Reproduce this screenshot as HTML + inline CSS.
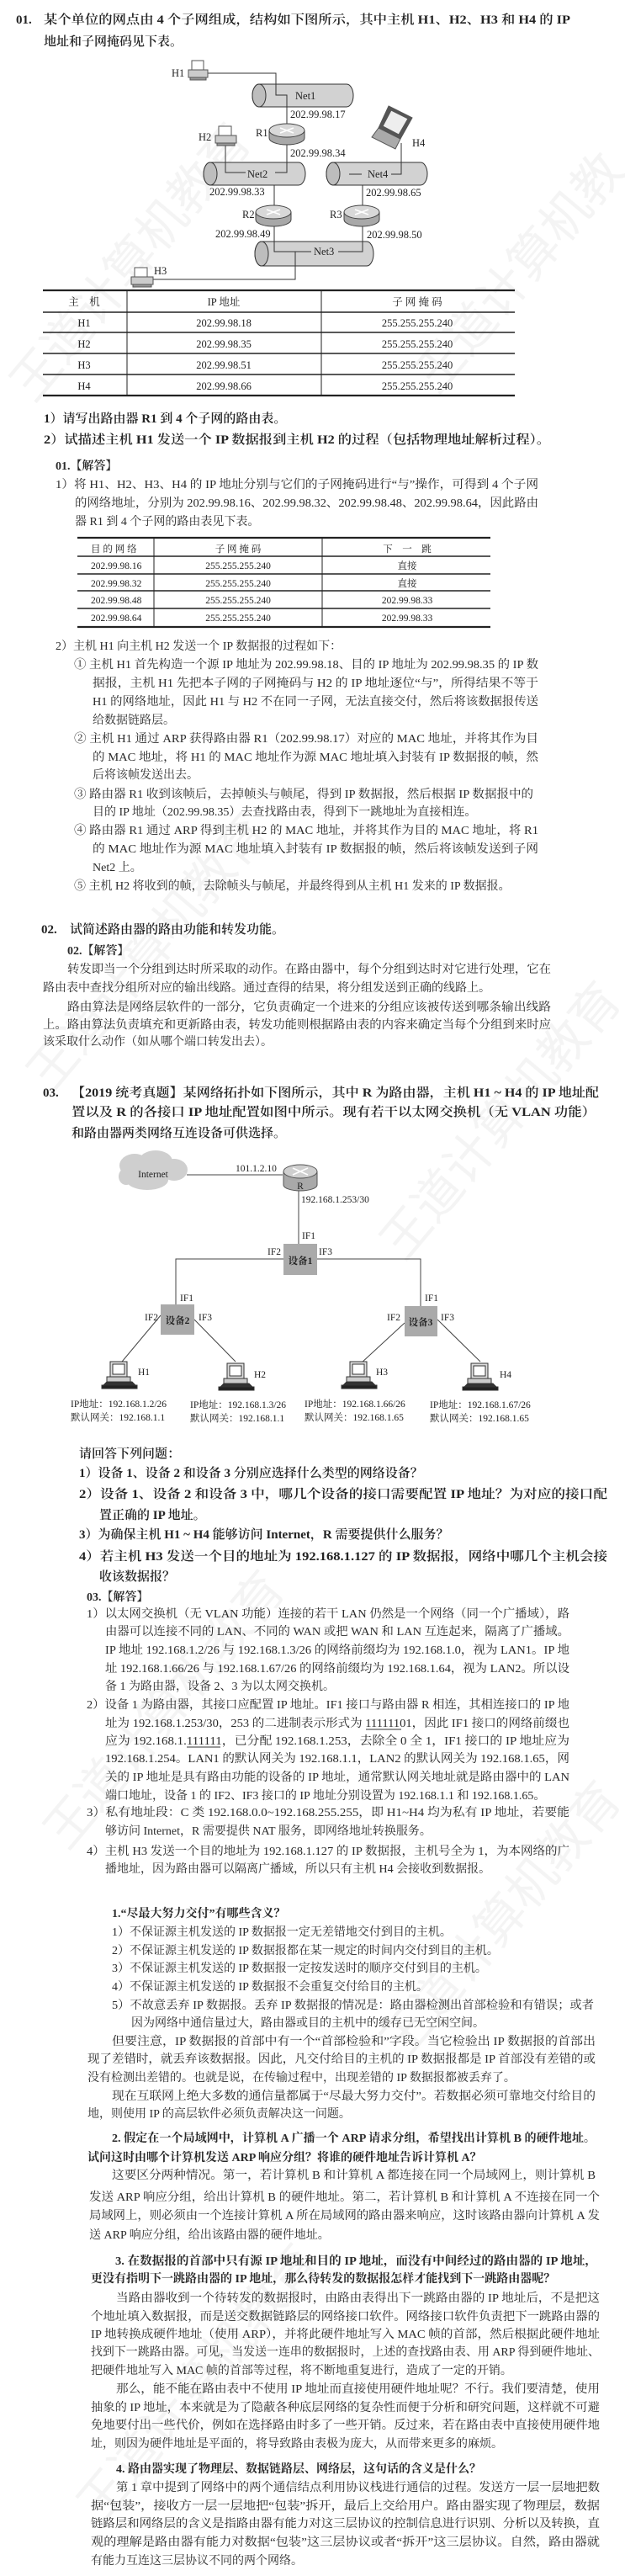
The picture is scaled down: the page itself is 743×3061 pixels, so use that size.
<!DOCTYPE html>
<html><head><meta charset="utf-8">
<style>
html,body{margin:0;padding:0;background:#fff;}
svg{display:block;}
.a{font-family:"Liberation Serif","Noto Serif CJK SC",serif;font-size:14px;fill:#2a2a2a;}
.q{font-family:"Liberation Serif","Noto Serif CJK SC",serif;font-size:15px;font-weight:600;fill:#222;}
.s{font-family:"Liberation Serif","Noto Serif CJK SC",serif;font-size:11.5px;fill:#222;}
.t{font-family:"Liberation Serif","Noto Serif CJK SC",serif;font-size:12.5px;fill:#222;}
.wm{font-family:"Noto Sans CJK SC",sans-serif;font-size:58px;fill:#000;opacity:0.045;}
</style></head><body>
<svg width="743" height="3061" viewBox="0 0 743 3061" xmlns="http://www.w3.org/2000/svg">
<rect width="743" height="3061" fill="#fff"/>
<g class="wm">
<text transform="translate(40,480) rotate(-50)">王道计算机教育</text>
<text transform="translate(520,470) rotate(-50)">王道计算机教</text>
<text transform="translate(60,1300) rotate(-50)">王道计算机教育</text>
<text transform="translate(480,1500) rotate(-50)">王道计算机教育</text>
<text transform="translate(80,2200) rotate(-50)">王道计算机教育</text>
<text transform="translate(480,2450) rotate(-50)">王道计算机教育</text>
<text transform="translate(120,3000) rotate(-50)">王道计算机教育</text>
</g>

<text class="q" x="19" y="28">01.</text>
<text class="q" x="52" y="28" textLength="626" lengthAdjust="spacingAndGlyphs">某个单位的网点由 4 个子网组成，结构如下图所示，其中主机 H1、H2、H3 和 H4 的 IP</text>
<text class="q" x="52" y="54">地址和子网掩码见下表。</text>

<g stroke="#333" stroke-width="1" fill="none">
<polyline points="247,87 328,87 328,113 341,113 341,147"/>
<polyline points="341,170 341,205 327,205"/>
<polyline points="268,172 268,205 292,205"/>
<polyline points="477,170 477,207 465,207"/>
<line x1="415" y1="207" x2="430" y2="207"/>
<line x1="379" y1="114" x2="401" y2="114"/>
<line x1="326" y1="220" x2="326" y2="245"/>
<line x1="431" y1="220" x2="431" y2="245"/>
<polyline points="326,266 326,299 370,299"/>
<polyline points="431,266 431,299 402,299"/>
<polyline points="351,299 351,332 182,332"/>
</g>
<g stroke="#333" stroke-width="1" fill="#d2d2d2">
<path d="M308,100 L412,100 A8,13.5 0 0 1 412,127 L308,127 A8,13.5 0 0 1 308,100 Z"/>
<ellipse cx="308" cy="113.5" rx="8" ry="13.5" fill="#bdbdbd"/>
<path d="M250,193 L355,193 A8,13.5 0 0 1 355,220 L250,220 A8,13.5 0 0 1 250,193 Z"/>
<ellipse cx="250" cy="206.5" rx="8" ry="13.5" fill="#bdbdbd"/>
<path d="M396,193 L500,193 A8,13.5 0 0 1 500,220 L396,220 A8,13.5 0 0 1 396,193 Z"/>
<ellipse cx="396" cy="206.5" rx="8" ry="13.5" fill="#bdbdbd"/>
<path d="M311,287 L436,287 A8,14.5 0 0 1 436,316 L311,316 A8,14.5 0 0 1 311,287 Z"/>
<ellipse cx="311" cy="301.5" rx="8" ry="14.5" fill="#bdbdbd"/>
</g>
<g stroke="#333" stroke-width="1" fill="none">
<polyline points="328,100 328,113 341,113 341,127"/>
<polyline points="268,193 268,205 292,205"/>
<polyline points="341,193 341,205 327,205"/>
<polyline points="477,193 477,207 465,207"/>
<line x1="415" y1="207" x2="430" y2="207"/>
<polyline points="326,287 326,299 370,299"/>
<polyline points="431,287 431,299 402,299"/>
<line x1="351" y1="299" x2="351" y2="316"/>
</g>
<text class="t" x="351" y="118">Net1</text>
<text class="t" x="294" y="211">Net2</text>
<text class="t" x="437" y="211">Net4</text>
<text class="t" x="373" y="303">Net3</text>
<text class="t" x="345" y="140">202.99.98.17</text>
<text class="t" x="345" y="186">202.99.98.34</text>
<text class="t" x="249" y="232">202.99.98.33</text>
<text class="t" x="435" y="233">202.99.98.65</text>
<text class="t" x="256" y="282">202.99.98.49</text>
<text class="t" x="436" y="283">202.99.98.50</text>
<g stroke="#444" stroke-width="1">
<g transform="translate(341,158)"><path d="M-21,-3 L-21,6 A21,8 0 0 0 21,6 L21,-3 Z" fill="#a8a8a8"/><ellipse cx="0" cy="-3" rx="21" ry="8" fill="#d8d8d8"/><path d="M-8,-6 L8,0 M-8,0 L8,-6" stroke="#fff" stroke-width="1.5"/></g>
<g transform="translate(325,255)"><path d="M-21,-3 L-21,6 A21,8 0 0 0 21,6 L21,-3 Z" fill="#a8a8a8"/><ellipse cx="0" cy="-3" rx="21" ry="8" fill="#d8d8d8"/><path d="M-8,-6 L8,0 M-8,0 L8,-6" stroke="#fff" stroke-width="1.5"/></g>
<g transform="translate(430,255)"><path d="M-21,-3 L-21,6 A21,8 0 0 0 21,6 L21,-3 Z" fill="#a8a8a8"/><ellipse cx="0" cy="-3" rx="21" ry="8" fill="#d8d8d8"/><path d="M-8,-6 L8,0 M-8,0 L8,-6" stroke="#fff" stroke-width="1.5"/></g>
</g>
<text class="t" x="304" y="162">R1</text>
<text class="t" x="288" y="259">R2</text>
<text class="t" x="392" y="259">R3</text>
<g stroke="#555" stroke-width="1" fill="#ccc">
<rect x="228" y="72" width="14" height="12" fill="#fff"/><rect x="224" y="83" width="23" height="9"/><rect x="226" y="92" width="19" height="3" fill="#999"/>
<rect x="260" y="150" width="15" height="12" fill="#fff"/><rect x="256" y="161" width="25" height="9"/><rect x="258" y="170" width="21" height="3" fill="#999"/>
<rect x="160" y="318" width="15" height="12" fill="#fff"/><rect x="156" y="329" width="26" height="9"/><rect x="158" y="338" width="22" height="3" fill="#999"/>
<path d="M462,126 L490,140 L476,165 L450,152 Z" fill="#555"/><path d="M465,131 L485,141 L474,160 L455,150 Z" fill="#eee"/><path d="M450,152 L476,165 L470,177 L442,163 Z" fill="#aaa"/>
</g>
<text class="t" x="204" y="91">H1</text>
<text class="t" x="236" y="167">H2</text>
<text class="t" x="183" y="326">H3</text>
<text class="t" x="490" y="174">H4</text>

<g stroke="#222">
<line x1="51" y1="345" x2="612" y2="345" stroke-width="2.2"/>
<line x1="51" y1="371" x2="612" y2="371" stroke-width="1.6"/>
<line x1="51" y1="395" x2="612" y2="395" stroke-width="1.4"/>
<line x1="51" y1="420" x2="612" y2="420" stroke-width="1.4"/>
<line x1="51" y1="445" x2="612" y2="445" stroke-width="1.4"/>
<line x1="51" y1="470" x2="612" y2="470" stroke-width="2.2"/>
<line x1="151" y1="345" x2="151" y2="470" stroke-width="1"/>
<line x1="382" y1="345" x2="382" y2="470" stroke-width="1"/>
</g>
<g class="t" text-anchor="middle">
<text x="100" y="363">主　机</text><text x="266" y="363">IP 地址</text><text x="496" y="363">子 网 掩 码</text>
<text x="100" y="388">H1</text><text x="266" y="388">202.99.98.18</text><text x="496" y="388">255.255.255.240</text>
<text x="100" y="413">H2</text><text x="266" y="413">202.99.98.35</text><text x="496" y="413">255.255.255.240</text>
<text x="100" y="438">H3</text><text x="266" y="438">202.99.98.51</text><text x="496" y="438">255.255.255.240</text>
<text x="100" y="463">H4</text><text x="266" y="463">202.99.98.66</text><text x="496" y="463">255.255.255.240</text>
</g>
<text class="q" x="52" y="502">1）请写出路由器 R1 到 4 个子网的路由表。</text>
<text class="q" x="52" y="527" textLength="602" lengthAdjust="spacingAndGlyphs">2）试描述主机 H1 发送一个 IP 数据报到主机 H2 的过程（包括物理地址解析过程）。</text>

<text class="a" x="66" y="558" font-weight="700">01.【解答】</text>
<text class="a" x="66" y="580" textLength="574" lengthAdjust="spacingAndGlyphs">1）将 H1、H2、H3、H4 的 IP 地址分别与它们的子网掩码进行“与”操作，可得到 4 个子网</text>
<text class="a" x="89" y="602" textLength="551" lengthAdjust="spacingAndGlyphs">的网络地址，分别为 202.99.98.16、202.99.98.32、202.99.98.48、202.99.98.64，因此路由</text>
<text class="a" x="89" y="624">器 R1 到 4 个子网的路由表见下表。</text>

<g stroke="#222">
<line x1="92" y1="639" x2="583" y2="639" stroke-width="2.2"/>
<line x1="92" y1="661" x2="583" y2="661" stroke-width="1.6"/>
<line x1="92" y1="682" x2="583" y2="682" stroke-width="1.4"/>
<line x1="92" y1="702" x2="583" y2="702" stroke-width="1.4"/>
<line x1="92" y1="723" x2="583" y2="723" stroke-width="1.4"/>
<line x1="92" y1="745" x2="583" y2="745" stroke-width="2.2"/>
<line x1="183" y1="639" x2="183" y2="745" stroke-width="1"/>
<line x1="383" y1="639" x2="383" y2="745" stroke-width="1"/>
</g>
<g class="s">
<text x="108" y="656">目 的 网 络</text>
<text x="108" y="676">202.99.98.16</text><text x="108" y="697">202.99.98.32</text><text x="108" y="717">202.99.98.48</text><text x="108" y="738">202.99.98.64</text>
</g>
<g class="s" text-anchor="middle">
<text x="283" y="656">子 网 掩 码</text><text x="484" y="656">下　一　跳</text>
<text x="283" y="676">255.255.255.240</text><text x="484" y="676">直接</text>
<text x="283" y="697">255.255.255.240</text><text x="484" y="697">直接</text>
<text x="283" y="717">255.255.255.240</text><text x="484" y="717">202.99.98.33</text>
<text x="283" y="738">255.255.255.240</text><text x="484" y="738">202.99.98.33</text>
</g>

<text class="a" x="66" y="772">2）主机 H1 向主机 H2 发送一个 IP 数据报的过程如下：</text>
<text class="a" x="88" y="794" textLength="552" lengthAdjust="spacingAndGlyphs">① 主机 H1 首先构造一个源 IP 地址为 202.99.98.18、目的 IP 地址为 202.99.98.35 的 IP 数</text>
<text class="a" x="110" y="816" textLength="530" lengthAdjust="spacingAndGlyphs">据报，主机 H1 先把本子网的子网掩码与 H2 的 IP 地址逐位“与”，所得结果不等于</text>
<text class="a" x="110" y="838" textLength="530" lengthAdjust="spacingAndGlyphs">H1 的网络地址，因此 H1 与 H2 不在同一子网，无法直接交付，然后将该数据报传送</text>
<text class="a" x="110" y="860">给数据链路层。</text>
<text class="a" x="88" y="882" textLength="552" lengthAdjust="spacingAndGlyphs">② 主机 H1 通过 ARP 获得路由器 R1（202.99.98.17）对应的 MAC 地址，并将其作为目</text>
<text class="a" x="110" y="904" textLength="530" lengthAdjust="spacingAndGlyphs">的 MAC 地址，将 H1 的 MAC 地址作为源 MAC 地址填入封装有 IP 数据报的帧，然</text>
<text class="a" x="110" y="925">后将该帧发送出去。</text>
<text class="a" x="88" y="948" textLength="546" lengthAdjust="spacingAndGlyphs">③ 路由器 R1 收到该帧后，去掉帧头与帧尾，得到 IP 数据报，然后根据 IP 数据报中的</text>
<text class="a" x="110" y="969">目的 IP 地址（202.99.98.35）去查找路由表，得到下一跳地址为直接相连。</text>
<text class="a" x="88" y="991" textLength="552" lengthAdjust="spacingAndGlyphs">④ 路由器 R1 通过 ARP 得到主机 H2 的 MAC 地址，并将其作为目的 MAC 地址，将 R1</text>
<text class="a" x="110" y="1013" textLength="530" lengthAdjust="spacingAndGlyphs">的 MAC 地址作为源 MAC 地址填入封装有 IP 数据报的帧，然后将该帧发送到子网</text>
<text class="a" x="110" y="1035">Net2 上。</text>
<text class="a" x="88" y="1057">⑤ 主机 H2 将收到的帧，去除帧头与帧尾，并最终得到从主机 H1 发来的 IP 数据报。</text>

<text class="q" x="49" y="1109">02.</text>
<text class="q" x="83" y="1109">试简述路由器的路由功能和转发功能。</text>
<text class="a" x="80" y="1134" font-weight="700">02.【解答】</text>
<text class="a" x="80" y="1156" textLength="575" lengthAdjust="spacingAndGlyphs">转发即当一个分组到达时所采取的动作。在路由器中，每个分组到达时对它进行处理，它在</text>
<text class="a" x="51" y="1178">路由表中查找分组所对应的输出线路。通过查得的结果，将分组发送到正确的线路上。</text>
<text class="a" x="80" y="1201" textLength="575" lengthAdjust="spacingAndGlyphs">路由算法是网络层软件的一部分，它负责确定一个进来的分组应该被传送到哪条输出线路</text>
<text class="a" x="51" y="1222" textLength="604" lengthAdjust="spacingAndGlyphs">上。路由算法负责填充和更新路由表，转发功能则根据路由表的内容来确定当每个分组到来时应</text>
<text class="a" x="51" y="1242">该采取什么动作（如从哪个端口转发出去）。</text>

<text class="q" x="51" y="1303">03.</text>
<text class="q" x="85" y="1303" textLength="627" lengthAdjust="spacingAndGlyphs">【2019 统考真题】某网络拓扑如下图所示，其中 R 为路由器，主机 H1 ~ H4 的 IP 地址配</text>
<text class="q" x="85" y="1326" textLength="623" lengthAdjust="spacingAndGlyphs">置以及 R 的各接口 IP 地址配置如图中所示。现有若干以太网交换机（无 VLAN 功能）</text>
<text class="q" x="85" y="1351">和路由器两类网络互连设备可供选择。</text>

<g fill="#cfcfcf">
<ellipse cx="160" cy="1385" rx="18" ry="14"/><ellipse cx="185" cy="1380" rx="20" ry="13"/><ellipse cx="207" cy="1390" rx="16" ry="13"/><ellipse cx="175" cy="1402" rx="25" ry="12"/><ellipse cx="150" cy="1398" rx="9" ry="10"/>
</g>
<text class="s" x="182" y="1399" text-anchor="middle">Internet</text>
<g stroke="#444" stroke-width="1" fill="none">
<line x1="222" y1="1396" x2="336" y2="1396"/>
<line x1="355" y1="1412" x2="355" y2="1478"/>
<polyline points="209,1550 209,1496 500,1496 500,1552"/>
<line x1="191" y1="1563" x2="145" y2="1618"/>
<line x1="231" y1="1568" x2="280" y2="1618"/>
<line x1="481" y1="1572" x2="429" y2="1620"/>
<line x1="520" y1="1568" x2="571" y2="1618"/>
</g>
<g transform="translate(357,1398)" stroke="#555" stroke-width="1">
<path d="M-20,-6 L-20,10 A20,7 0 0 0 20,10 L20,-6 Z" fill="#a9a9a9"/>
<ellipse cx="0" cy="-6" rx="20" ry="8" fill="#cfcfcf"/>
<path d="M-9,-10 L9,-2 M-9,-2 L9,-10" stroke="#fff" stroke-width="1.6"/>
</g>
<text class="s" x="357" y="1413" text-anchor="middle">R</text>
<text class="s" x="280" y="1392">101.1.2.10</text>
<text class="s" x="358" y="1429">192.168.1.253/30</text>
<rect x="337" y="1478" width="40" height="37" fill="#aaa"/>
<rect x="191" y="1550" width="40" height="36" fill="#aaa"/>
<rect x="481" y="1552" width="39" height="36" fill="#aaa"/>
<g class="s" font-weight="700" text-anchor="middle">
<text x="357" y="1502">设备1</text><text x="211" y="1573">设备2</text><text x="500" y="1575">设备3</text>
</g>
<g class="s">
<text x="359" y="1472">IF1</text><text x="318" y="1491">IF2</text><text x="379" y="1491">IF3</text>
<text x="214" y="1546">IF1</text><text x="172" y="1569">IF2</text><text x="236" y="1569">IF3</text>
<text x="505" y="1546">IF1</text><text x="460" y="1569">IF2</text><text x="524" y="1569">IF3</text>
</g>
<g stroke="#333" stroke-width="1">
<g transform="translate(121,1618)"><rect x="10" y="0" width="20" height="18" fill="#ddd"/><rect x="13" y="3" width="14" height="12" fill="#fff"/><rect x="6" y="18" width="28" height="6" fill="#ccc"/><path d="M2,28 L40,28 L36,24 L6,24 Z" fill="#333"/><rect x="0" y="28" width="42" height="4" fill="#222"/></g>
<g transform="translate(260,1620)"><rect x="10" y="0" width="20" height="18" fill="#ddd"/><rect x="13" y="3" width="14" height="12" fill="#fff"/><rect x="6" y="18" width="28" height="6" fill="#ccc"/><path d="M2,28 L40,28 L36,24 L6,24 Z" fill="#333"/><rect x="0" y="28" width="42" height="4" fill="#222"/></g>
<g transform="translate(406,1618)"><rect x="10" y="0" width="20" height="18" fill="#ddd"/><rect x="13" y="3" width="14" height="12" fill="#fff"/><rect x="6" y="18" width="28" height="6" fill="#ccc"/><path d="M2,28 L40,28 L36,24 L6,24 Z" fill="#333"/><rect x="0" y="28" width="42" height="4" fill="#222"/></g>
<g transform="translate(550,1620)"><rect x="10" y="0" width="20" height="18" fill="#ddd"/><rect x="13" y="3" width="14" height="12" fill="#fff"/><rect x="6" y="18" width="28" height="6" fill="#ccc"/><path d="M2,28 L40,28 L36,24 L6,24 Z" fill="#333"/><rect x="0" y="28" width="42" height="4" fill="#222"/></g>
</g>
<g class="s">
<text x="164" y="1634">H1</text><text x="302" y="1637">H2</text><text x="447" y="1634">H3</text><text x="594" y="1637">H4</text>
<text x="84" y="1672">IP地址：192.168.1.2/26</text><text x="84" y="1688">默认网关：192.168.1.1</text>
<text x="226" y="1673">IP地址：192.168.1.3/26</text><text x="226" y="1689">默认网关：192.168.1.1</text>
<text x="362" y="1672">IP地址：192.168.1.66/26</text><text x="362" y="1688">默认网关：192.168.1.65</text>
<text x="511" y="1673">IP地址：192.168.1.67/26</text><text x="511" y="1689">默认网关：192.168.1.65</text>
</g>

<text class="q" x="94" y="1732" font-weight="400">请回答下列问题：</text>
<text class="q" x="94" y="1755">1）设备 1、设备 2 和设备 3 分别应选择什么类型的网络设备？</text>
<text class="q" x="94" y="1780" textLength="628" lengthAdjust="spacingAndGlyphs">2）设备 1、设备 2 和设备 3 中，哪几个设备的接口需要配置 IP 地址？为对应的接口配</text>
<text class="q" x="118" y="1805">置正确的 IP 地址。</text>
<text class="q" x="94" y="1828">3）为确保主机 H1 ~ H4 能够访问 Internet，R 需要提供什么服务？</text>
<text class="q" x="94" y="1854" textLength="628" lengthAdjust="spacingAndGlyphs">4）若主机 H3 发送一个目的地址为 192.168.1.127 的 IP 数据报，网络中哪几个主机会接</text>
<text class="q" x="118" y="1878">收该数据报？</text>

<text class="a" x="103" y="1902" font-weight="700">03.【解答】</text>
<text class="a" x="103" y="1922" textLength="574" lengthAdjust="spacingAndGlyphs">1）以太网交换机（无 VLAN 功能）连接的若干 LAN 仍然是一个网络（同一个广播域），路</text>
<text class="a" x="125" y="1943" textLength="552" lengthAdjust="spacingAndGlyphs">由器可以连接不同的 LAN、不同的 WAN 或把 WAN 和 LAN 互连起来，隔离了广播域。</text>
<text class="a" x="125" y="1965" textLength="552" lengthAdjust="spacingAndGlyphs">IP 地址 192.168.1.2/26 与 192.168.1.3/26 的网络前缀均为 192.168.1.0，视为 LAN1。IP 地</text>
<text class="a" x="125" y="1987" textLength="552" lengthAdjust="spacingAndGlyphs">址 192.168.1.66/26 与 192.168.1.67/26 的网络前缀均为 192.168.1.64，视为 LAN2。所以设</text>
<text class="a" x="125" y="2008">备 1 为路由器，设备 2、3 为以太网交换机。</text>
<text class="a" x="103" y="2030" textLength="574" lengthAdjust="spacingAndGlyphs">2）设备 1 为路由器，其接口应配置 IP 地址。IF1 接口与路由器 R 相连，其相连接口的 IP 地</text>
<text class="a" x="125" y="2052" textLength="552" lengthAdjust="spacingAndGlyphs">址为 192.168.1.253/30，253 的二进制表示形式为 11111101，因此 IF1 接口的网络前缀也</text>
<line x1="435" y1="2055" x2="477" y2="2055" stroke="#333" stroke-width="1"/>
<text class="a" x="125" y="2073" textLength="552" lengthAdjust="spacingAndGlyphs">应为 192.168.1.111111，已分配 192.168.1.253，去除全 0 全 1，IF1 接口的 IP 地址应为</text>
<line x1="222" y1="2076" x2="262" y2="2076" stroke="#333" stroke-width="1"/>
<text class="a" x="125" y="2094" textLength="552" lengthAdjust="spacingAndGlyphs">192.168.1.254。LAN1 的默认网关为 192.168.1.1，LAN2 的默认网关为 192.168.1.65，网</text>
<text class="a" x="125" y="2116" textLength="552" lengthAdjust="spacingAndGlyphs">关的 IP 地址是具有路由功能的设备的 IP 地址，通常默认网关地址就是路由器中的 LAN</text>
<text class="a" x="125" y="2138">端口地址，设备 1 的 IF2、IF3 接口的 IP 地址分别设置为 192.168.1.1 和 192.168.1.65。</text>
<text class="a" x="103" y="2158" textLength="574" lengthAdjust="spacingAndGlyphs">3）私有地址段：C 类 192.168.0.0~192.168.255.255，即 H1~H4 均为私有 IP 地址，若要能</text>
<text class="a" x="125" y="2180">够访问 Internet，R 需要提供 NAT 服务，即网络地址转换服务。</text>
<text class="a" x="103" y="2204" textLength="574" lengthAdjust="spacingAndGlyphs">4）主机 H3 发送一个目的地址为 192.168.1.127 的 IP 数据报，主机号全为 1，为本网络的广</text>
<text class="a" x="125" y="2225">播地址，因为路由器可以隔离广播域，所以只有主机 H4 会接收到数据报。</text>

<text class="a" x="133" y="2278" font-weight="700">1.“尽最大努力交付”有哪些含义？</text>
<text class="a" x="133" y="2300">1）不保证源主机发送的 IP 数据报一定无差错地交付到目的主机。</text>
<text class="a" x="133" y="2322">2）不保证源主机发送的 IP 数据报都在某一规定的时间内交付到目的主机。</text>
<text class="a" x="133" y="2343">3）不保证源主机发送的 IP 数据报一定按发送时的顺序交付到目的主机。</text>
<text class="a" x="133" y="2365">4）不保证源主机发送的 IP 数据报不会重复交付给目的主机。</text>
<text class="a" x="133" y="2387" textLength="573" lengthAdjust="spacingAndGlyphs">5）不故意丢弃 IP 数据报。丢弃 IP 数据报的情况是：路由器检测出首部检验和有错误；或者</text>
<text class="a" x="156" y="2408">因为网络中通信量过大，路由器或目的主机中的缓存已无空闲空间。</text>
<text class="a" x="133" y="2430" textLength="575" lengthAdjust="spacingAndGlyphs">但要注意，IP 数据报的首部中有一个“首部检验和”字段。当它检验出 IP 数据报的首部出</text>
<text class="a" x="104" y="2451" textLength="604" lengthAdjust="spacingAndGlyphs">现了差错时，就丢弃该数据报。因此，凡交付给目的主机的 IP 数据报都是 IP 首部没有差错的或</text>
<text class="a" x="104" y="2473">没有检测出差错的。也就是说，在传输过程中，出现差错的 IP 数据报都被丢弃了。</text>
<text class="a" x="133" y="2495" textLength="575" lengthAdjust="spacingAndGlyphs">现在互联网上绝大多数的通信量都属于“尽最大努力交付”。若数据必须可靠地交付给目的</text>
<text class="a" x="104" y="2516">地，则使用 IP 的高层软件必须负责解决这一问题。</text>

<text class="a" x="133" y="2545" font-weight="700" textLength="575" lengthAdjust="spacingAndGlyphs">2. 假定在一个局域网中，计算机 A 广播一个 ARP 请求分组，希望找出计算机 B 的硬件地址。</text>
<text class="a" x="104" y="2568" font-weight="700">试问这时由哪个计算机发送 ARP 响应分组？将谁的硬件地址告诉计算机 A？</text>
<text class="a" x="133" y="2589" textLength="575" lengthAdjust="spacingAndGlyphs">这要区分两种情况。第一，若计算机 B 和计算机 A 都连接在同一个局域网上，则计算机 B</text>
<text class="a" x="106" y="2615" textLength="607" lengthAdjust="spacingAndGlyphs">发送 ARP 响应分组，给出计算机 B 的硬件地址。第二，若计算机 B 和计算机 A 不连接在同一个</text>
<text class="a" x="106" y="2637" textLength="607" lengthAdjust="spacingAndGlyphs">局域网上，则必须由一个连接计算机 A 所在局域网的路由器来响应，这时该路由器向计算机 A 发</text>
<text class="a" x="106" y="2660">送 ARP 响应分组，给出该路由器的硬件地址。</text>

<text class="a" x="137" y="2691" font-weight="700" textLength="573" lengthAdjust="spacingAndGlyphs">3. 在数据报的首部中只有源 IP 地址和目的 IP 地址，而没有中间经过的路由器的 IP 地址，</text>
<text class="a" x="108" y="2712" font-weight="700">更没有指明下一跳路由器的 IP 地址，那么待转发的数据报怎样才能找到下一跳路由器呢？</text>
<text class="a" x="138" y="2735" textLength="575" lengthAdjust="spacingAndGlyphs">当路由器收到一个待转发的数据报时，由路由表得出下一跳路由器的 IP 地址后，不是把这</text>
<text class="a" x="108" y="2757" textLength="605" lengthAdjust="spacingAndGlyphs">个地址填入数据报，而是送交数据链路层的网络接口软件。网络接口软件负责把下一跳路由器的</text>
<text class="a" x="108" y="2778" textLength="605" lengthAdjust="spacingAndGlyphs">IP 地转换成硬件地址（使用 ARP），并将此硬件地址写入 MAC 帧的首部，然后根据此硬件地址</text>
<text class="a" x="108" y="2799" textLength="605" lengthAdjust="spacingAndGlyphs">找到下一跳路由器。可见，当发送一连串的数据报时，上述的查找路由表、用 ARP 得到硬件地址、</text>
<text class="a" x="108" y="2821">把硬件地址写入 MAC 帧的首部等过程，将不断地重复进行，造成了一定的开销。</text>
<text class="a" x="138" y="2843" textLength="575" lengthAdjust="spacingAndGlyphs">那么，能不能在路由表中不使用 IP 地址而直接使用硬件地址呢？不行。我们要清楚，使用</text>
<text class="a" x="108" y="2865" textLength="605" lengthAdjust="spacingAndGlyphs">抽象的 IP 地址，本来就是为了隐蔽各种底层网络的复杂性而便于分析和研究问题，这样就不可避</text>
<text class="a" x="108" y="2886" textLength="605" lengthAdjust="spacingAndGlyphs">免地要付出一些代价，例如在选择路由时多了一些开销。反过来，若在路由表中直接使用硬件地</text>
<text class="a" x="108" y="2908">址，则因为硬件地址是平面的，将导致路由表极为庞大，从而带来更多的麻烦。</text>

<text class="a" x="138" y="2938" font-weight="700">4. 路由器实现了物理层、数据链路层、网络层，这句话的含义是什么？</text>
<text class="a" x="138" y="2960" textLength="575" lengthAdjust="spacingAndGlyphs">第 1 章中提到了网络中的两个通信结点利用协议栈进行通信的过程。发送方一层一层地把数</text>
<text class="a" x="108" y="2982" textLength="605" lengthAdjust="spacingAndGlyphs">据“包装”，接收方一层一层地把“包装”拆开，最后上交给用户。路由器实现了物理层，数据</text>
<text class="a" x="108" y="3003" textLength="605" lengthAdjust="spacingAndGlyphs">链路层和网络层的含义是指路由器有能力对这三层协议的控制信息进行识别、分析以及转换，直</text>
<text class="a" x="108" y="3025" textLength="605" lengthAdjust="spacingAndGlyphs">观的理解是路由器有能力对数据“包装”这三层协议或者“拆开”这三层协议。自然，路由器就</text>
<text class="a" x="108" y="3047">有能力互连这三层协议不同的两个网络。</text>
</svg>
</body></html>
